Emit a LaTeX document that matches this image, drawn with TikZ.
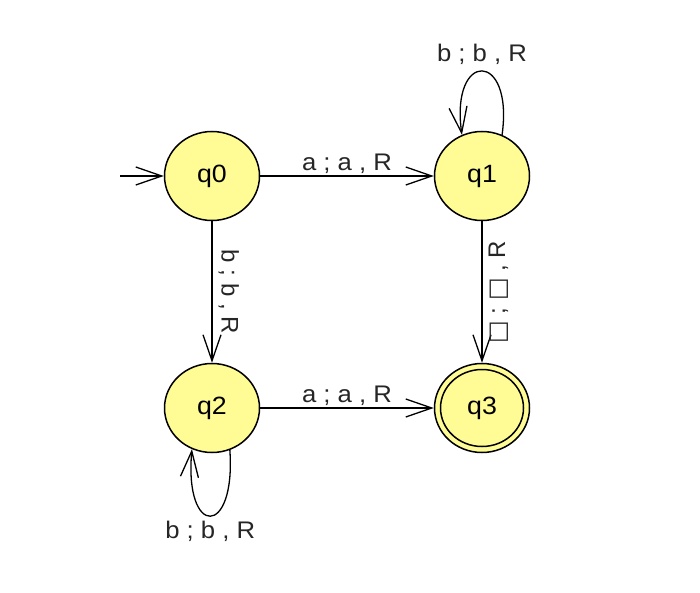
\documentclass[tikz,border=0pt]{standalone}
\usepackage{fontspec}
\setmainfont{Liberation Sans}
\newfontfamily\symfont{DejaVu Sans}
\usetikzlibrary{arrows.meta,shapes.geometric}
\definecolor{stfill}{RGB}{255,252,150}
\newcommand{\sx}[1]{\scalebox{1.07}[1]{#1}}
\begin{document}
\begin{tikzpicture}[x=1pt,y=-1pt,
  state/.style={ellipse, draw, line width=1.5pt, fill=stfill, minimum width=95pt, minimum height=89pt, inner sep=0pt, font=\fontsize{25}{30}\selectfont},
  trans/.style={draw, line width=1.3pt, -{Straight Barb[length=26pt,width=18pt,line width=1.3pt]}},
  lbl/.style={font=\fontsize{24}{29}\selectfont, text=black!85, inner sep=2pt}]
\useasboundingbox (0,0) rectangle (700,593);
\node[state] (q0) at (212,176) {\sx{q0}};
\node[state] (q1) at (482,176) {\sx{q1}};
\node[state] (q2) at (212,408) {\sx{q2}};
\node[state] (q3) at (482,408) {\sx{q3}};
\draw[line width=1.5pt] (q3.center) ellipse [x radius=41.5pt, y radius=38.5pt];
\coordinate (start) at (120,176);
\draw[trans] (start) -- (q0);
\draw[trans] (q0) -- node[lbl, above] {\sx{a ; a , R}} (q1);
\draw[trans] (q2) -- node[lbl, above] {\sx{a ; a , R}} (q3);
\draw[trans] (q0) -- node[lbl, rotate=-90, anchor=south, inner sep=6pt] {b ; b , R} (q2);
\draw[trans] (q1) -- node[lbl, rotate=90, anchor=north, inner sep=6pt] {{\symfont □} ; {\symfont □} , R} (q3);
\draw[trans] (q1.64) .. controls (514,50) and (450,50) .. node[lbl, above=4pt] {\sx{b ; b , R}} (q1.116);
\draw[trans] (q2.293) .. controls (236,538) and (184,538) .. node[lbl, below=3pt] {\sx{b ; b , R}} (q2.244);
\end{tikzpicture}
\end{document}
